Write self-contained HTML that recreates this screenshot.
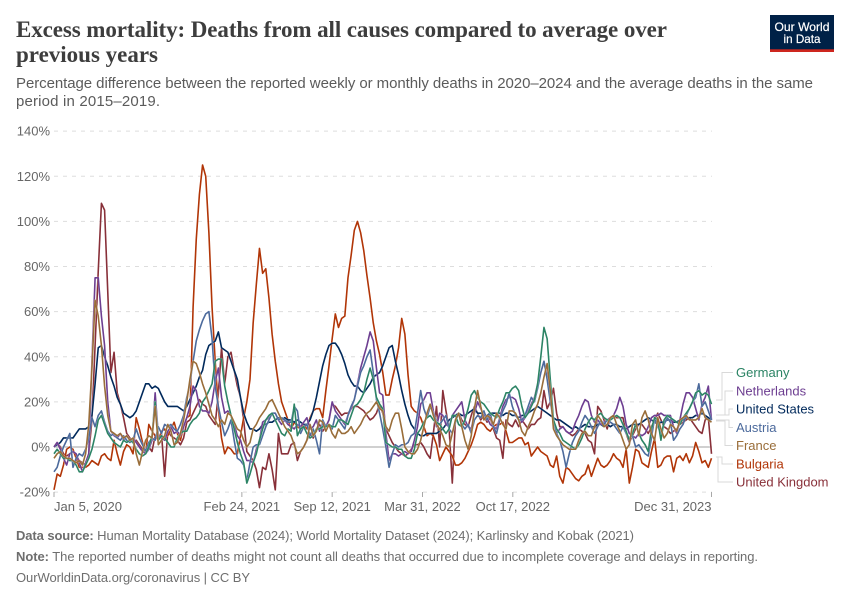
<!DOCTYPE html>
<html lang="en">
<head>
<meta charset="utf-8">
<title>Excess mortality</title>
<style>
html,body{margin:0;padding:0;background:#fff;width:850px;height:600px;overflow:hidden}
svg{display:block}
text{font-family:"Liberation Sans",sans-serif}
.title{font-family:"Liberation Serif",serif;font-weight:700;font-size:23px;fill:#3d3d3d}
.sub{font-size:15px;fill:#5b5b5b}
.foot{font-size:13px;fill:#6e6e6e}
.tick{font-size:13px;fill:#666}
.leg{font-size:13px}
</style>
</head>
<body>
<svg id="chart" width="850" height="600" viewBox="0 0 850 600" xmlns="http://www.w3.org/2000/svg">
  <rect width="850" height="600" fill="#fff"/>
  <text class="title" x="16" y="37" textLength="651" lengthAdjust="spacing">Excess mortality: Deaths from all causes compared to average over</text>
  <text class="title" x="16" y="62" textLength="142" lengthAdjust="spacing">previous years</text>
  <text class="sub" x="16" y="88" textLength="797" lengthAdjust="spacing">Percentage difference between the reported weekly or monthly deaths in 2020–2024 and the average deaths in the same</text>
  <text class="sub" x="16" y="106" textLength="144" lengthAdjust="spacing">period in 2015–2019.</text>

  <g>
    <rect x="770" y="15" width="64" height="37" fill="#002147"/>
    <rect x="770" y="49.3" width="64" height="2.7" fill="#ce261e"/>
    <text x="802" y="31" text-anchor="middle" font-size="12" fill="#fff" stroke="#fff" stroke-width="0.2" textLength="55" lengthAdjust="spacingAndGlyphs">Our World</text>
    <text x="802" y="43" text-anchor="middle" font-size="12" fill="#fff" stroke="#fff" stroke-width="0.2" textLength="37" lengthAdjust="spacingAndGlyphs">in Data</text>
  </g>

  <g id="grid"></g>
  <g id="xaxis"></g>
  <g id="lines"></g>
  <g id="legend"></g>

  <text class="foot" x="16" y="540" textLength="618" lengthAdjust="spacing"><tspan font-weight="700">Data source:</tspan> Human Mortality Database (2024); World Mortality Dataset (2024); Karlinsky and Kobak (2021)</text>
  <text class="foot" x="16" y="561" textLength="742" lengthAdjust="spacing"><tspan font-weight="700">Note:</tspan> The reported number of deaths might not count all deaths that occurred due to incomplete coverage and delays in reporting.</text>
  <text class="foot" x="16" y="582" textLength="234" lengthAdjust="spacing">OurWorldinData.org/coronavirus | CC BY</text>
</svg>
<script>
const startDate = "2020-01-05";
const endDate = "2023-12-31";
const yTicks = [-20, 0, 20, 40, 60, 80, 100, 120, 140];
const xTickDates = ["2020-01-05", "2021-02-24", "2021-09-12", "2022-03-31", "2022-10-17", "2023-12-31"];
const xTickLabels = ["Jan 5, 2020", "Feb 24, 2021", "Sep 12, 2021", "Mar 31, 2022", "Oct 17, 2022", "Dec 31, 2023"];

const unitedKingdom = [
0,2,0,-3,-4,-3,-2,-4,-6,-7,-8,-3,12,45,78,108,105,69,33,42,
24,19,13,6,4,2,3,1,-1,-3,0,-2,5,3,6,-13,7,5,4,3,
1,4,11,12,15,18,21,19,18,14,12,10,24,44,28,40,42,34,27,22,
12,-2,-4,-6,-10,-18,-9,-10,-3,-10,-19,6,-3,-3,-3,1,2,-6,-2,0,
3,6,4,8,10,7,9,12,19,18,16,14,15,15,17,18,18,17,16,14,
12,13,15,19,15,8,5,2,0,-2,-3,-4,-3,-1,1,1,2,0,-3,-5,
6,18,0,25,16,8,-16,12,15,12,10,9,14,18,15,12,14,11,13,8,
4,3,-5,12,10,9,12,9,12,10,8,10,10,12,13,25,17,20,26,15,
9,9,7,6,5,6,8,7,6,3,2,-3,18,16,12,8,13,14,13,13,
13,6,2,5,8,10,10,8,6,9,12,15,12,9,8,6,7,8,10,11,
12,13,11,9,7,6,12,13,-3];

const bulgaria = [
-19,-12,-13,-8,-1,0,-1,-5,-9,-9,-9,-8,-6,-7,-8,-4,-3,-5,-6,3,
-3,-8,-2,1,0,-3,13,8,2,-3,10,7,5,3,7,8,5,8,11,6,
3,9,13,14,62,92,112,125,120,95,62,38,17,4,-3,0,-1,-3,-3,5,
13,20,30,55,72,88,77,79,66,50,38,28,20,16,12,8,11,9,8,10,
8,13,16,17,17,13,25,36,48,59,53,57,58,75,85,96,100,95,87,76,
66,55,47,41,33,23,23,30,36,44,57,50,32,18,16,15,13,9,5,6,
5,1,-6,-3,0,-2,-4,-8,-8,-7,-5,-2,1,5,10,11,10,8,7,9,
10,10,11,7,2,2,3,4,4,1,2,-4,-2,0,-2,-3,-4,-8,-9,-4,
-13,-16,-9,-10,-12,-14,-15,-13,-12,-8,-13,-9,-5,-8,-9,-8,-6,-3,-5,-6,
-9,-1,-16,-9,-1,-2,-7,-8,-9,-2,4,-9,-8,-5,-4,-4,-11,-5,-4,-6,
-3,-7,-4,2,-2,-7,-6,-9,-5];

const unitedStates = [
0,1,2,4,4,4,4,6,8,8,8,9,14,28,44,45,40,36,31,27,
22,19,15,14,13,14,16,20,24,28,28,26,27,26,23,20,18,18,18,18,
17,16,18,21,24,27,31,34,41,45,46,47,51,44,43,42,38,34,30,22,
15,11,8,8,7,8,10,10,11,11,12,13,12,13,12,12,11,12,11,10,
10,12,16,22,29,36,41,45,46,46,44,41,37,32,29,27,27,25,24,26,
28,31,32,33,36,40,44,45,38,32,25,19,14,10,8,6,5,5,6,6,
6,6,7,8,10,12,13,14,15,14,14,15,16,17,15,15,14,14,15,15,
15,15,14,15,15,14,14,13,14,14,15,16,17,18,17,16,15,14,13,12,
12,11,10,9,8,9,8,9,10,9,9,9,10,10,9,10,9,10,10,9,
9,8,9,10,10,10,11,12,13,12,11,10,11,11,12,12,11,11,12,12,
13,13,13,14,14,15,14,13,12];

const netherlands = [
0,2,-1,-5,-8,-3,-2,-3,-7,-11,-7,-3,38,75,75,58,45,20,7,5,
4,6,3,5,3,4,2,0,-2,-3,-1,3,24,5,4,3,7,9,6,7,
5,9,13,18,27,25,18,16,16,15,20,29,35,22,15,16,14,10,5,3,
-2,-6,-6,-7,-1,3,11,12,13,15,15,12,10,12,10,9,8,10,9,11,
13,8,9,12,7,10,9,12,20,16,14,12,10,14,17,21,28,35,40,45,
51,47,35,24,23,6,-6,-3,-3,-4,-3,-2,-3,-2,3,9,19,21,24,24,
16,9,15,14,10,9,14,16,18,20,12,9,8,15,20,17,14,13,10,9,
8,13,18,21,22,22,21,17,11,13,16,19,22,28,33,38,32,22,12,6,
8,9,7,6,7,11,14,18,21,20,14,11,12,10,11,12,13,14,17,22,
18,10,6,5,4,6,5,6,9,13,14,14,15,14,14,14,9,6,12,19,
24,24,22,17,12,19,22,27,12];

const austria = [
-11,-9,-4,0,3,6,-9,-5,-3,-4,-1,4,13,9,14,16,11,7,5,6,
4,3,5,3,2,3,8,4,1,-2,2,4,3,9,6,10,9,10,8,7,
10,14,22,28,38,47,52,56,59,60,48,27,18,11,5,8,12,3,-5,-6,
-8,-15,-7,0,1,1,5,9,12,15,15,12,13,12,11,11,18,16,6,9,
10,5,8,3,-3,12,9,10,8,14,12,10,8,14,18,21,27,33,36,40,
43,33,21,15,8,0,-9,-3,1,0,1,1,2,5,6,15,25,17,13,18,
15,11,10,12,14,8,6,11,15,10,8,10,6,12,14,13,16,12,15,9,
6,12,16,19,24,18,14,12,12,14,18,22,20,26,33,38,30,20,12,6,
3,-2,-9,-3,2,5,7,11,14,12,9,6,9,12,10,12,11,10,8,6,
9,6,4,5,0,1,-1,-3,-4,4,13,9,6,10,13,11,3,5,8,10,
14,17,20,22,28,18,20,16,12];

const germany = [
-3,-1,-3,-5,-5,-6,-6,-8,-11,-11,-8,-5,-1,5,12,14,10,6,4,2,
1,0,3,2,3,2,-1,-3,-4,-3,0,5,20,3,5,4,2,0,0,4,
6,7,7,10,12,13,15,20,22,25,28,38,39,39,27,20,14,8,2,-3,
-7,-16,-12,-7,-3,3,8,12,14,15,12,9,6,5,8,7,19,5,8,9,
6,4,5,8,8,9,9,10,9,9,12,12,11,10,14,18,19,21,24,30,
35,30,22,19,17,2,1,0,0,-1,-1,-4,-5,-5,-1,6,8,11,13,14,
12,11,10,8,6,8,14,14,10,9,12,17,23,25,22,20,19,17,15,14,
13,17,20,24,24,26,27,25,18,13,15,18,21,28,40,53,48,30,12,8,
6,3,2,1,0,-1,1,4,8,11,13,12,14,15,13,12,12,13,14,13,
10,7,3,6,10,6,3,1,-2,8,13,12,3,12,14,13,12,11,10,13,
15,17,20,24,25,23,24,23,19];

const france = [
-5,-3,-2,-4,-5,-5,-6,-7,-6,-8,-3,10,35,65,58,45,27,14,7,6,
5,6,4,5,3,4,-3,-8,-2,3,5,4,18,1,3,5,10,7,1,2,
6,12,20,30,38,37,33,28,24,19,14,12,9,12,10,15,14,11,8,7,
3,0,2,8,10,13,15,17,20,21,18,15,12,9,7,5,1,-3,-2,0,
3,10,5,7,12,11,7,10,6,4,8,6,6,7,9,6,8,10,13,15,
16,18,20,17,16,9,7,12,15,15,8,0,-2,-3,-3,-1,3,9,15,19,
14,10,8,5,1,0,6,12,15,9,3,-1,5,17,25,18,12,14,13,10,
15,13,10,8,16,16,15,12,7,5,9,12,16,19,24,31,37,25,8,5,
3,1,0,-1,-1,-1,3,6,7,5,5,9,14,12,9,10,13,14,10,7,
3,-1,1,10,12,5,13,16,12,6,3,13,8,4,6,10,9,7,12,13,
14,12,12,12,13,17,13,12,11];

const NS = "http://www.w3.org/2000/svg";
const X0 = 54, X1 = 711.5, Y0 = 447, PX_PER_PCT = 2.256;
const DAY = 86400000;
const t0 = Date.parse(startDate), t1 = Date.parse(endDate);
function xByTime(t) { return X0 + (t - t0) / (t1 - t0) * (X1 - X0); }
function xByWeek(i) { return xByTime(t0 + i * 7 * DAY); }
function yScale(v) { return Y0 - v * PX_PER_PCT; }
function make(tag, attrs, parent) {
  const el = document.createElementNS(NS, tag);
  for (const k in attrs) el.setAttribute(k, attrs[k]);
  parent.appendChild(el);
  return el;
}

const grid = document.getElementById("grid");
yTicks.forEach(function (v) {
  const y = yScale(v);
  const line = make("line", {x1: X0, x2: X1 + 0.5, y1: y, y2: y,
    stroke: v === 0 ? "#b5b5b5" : "#dddddd",
    "stroke-width": v === 0 ? 1.3 : 1,
    "stroke-dasharray": v === 0 ? "none" : "4 5"}, grid);
  
  
  const label = make("text", {x: 50, y: y + 4.5, "text-anchor": "end", class: "tick"}, grid);
  
  
  label.textContent = v + "%";
});

const xaxis = document.getElementById("xaxis");
xTickDates.forEach(function (d, i) {
  const x = xByTime(Date.parse(d));
  const tick = make("line", {x1: x, x2: x, y1: 492, y2: 497, stroke: "#a8a8a8", "stroke-width": 1}, xaxis);
  
  
  const anchor = i === 0 ? "start" : (i === xTickDates.length - 1 ? "end" : "middle");
  const label = make("text", {x: x, y: 511, "text-anchor": anchor, class: "tick"}, xaxis);
  
  
  label.textContent = xTickLabels[i];
});

const seriesNames = ["United Kingdom", "Bulgaria", "United States", "Netherlands", "Austria", "Germany", "France"];
const seriesValues = [unitedKingdom, bulgaria, unitedStates, netherlands, austria, germany, france];
const seriesColors = ["#883039", "#b13507", "#00295b", "#6d3e91", "#4c6a9c", "#2c8465", "#996d39"];

const linesGroup = document.getElementById("lines");
seriesValues.forEach(function (vals, s) {
  const d = vals.map(function (v, i) {
    return (i ? "L" : "M") + xByWeek(i).toFixed(2) + " " + yScale(v).toFixed(2);
  }).join("");
  const halo = make("path", {d: d, fill: "none", stroke: "#fff", "stroke-width": 2.2, "stroke-opacity": 0.5, "stroke-linejoin": "round"}, linesGroup);
  
  
  const line = make("path", {d: d, fill: "none", stroke: seriesColors[s], "stroke-width": 1.6, "stroke-linejoin": "round"}, linesGroup);
  
  
});

const legendNames = ["Germany", "Netherlands", "United States", "Austria", "France", "Bulgaria", "United Kingdom"];
const legendColors = ["#2c8465", "#6d3e91", "#00295b", "#4c6a9c", "#996d39", "#b13507", "#883039"];
const legendTextY = [372.5, 391, 409, 427.5, 445.5, 464, 482];
const connectorStartY = [400, 415, 415, 420, 421, 457, 457];
const connectorElbowX = [722, 725, 729, 729, 725, 722, 718];
const legend = document.getElementById("legend");
legendNames.forEach(function (name, i) {
  const c = make("path", {d: "M716 " + connectorStartY[i] + "H" + connectorElbowX[i] + "V" + legendTextY[i] + "H733",
    fill: "none", stroke: "#d9d9d9", "stroke-width": 1}, legend);
  
  
  const t = make("text", {x: 736, y: legendTextY[i] + 4.5, class: "leg", fill: legendColors[i]}, legend);
  
  
  t.textContent = name;
});
</script>
</body>
</html>
